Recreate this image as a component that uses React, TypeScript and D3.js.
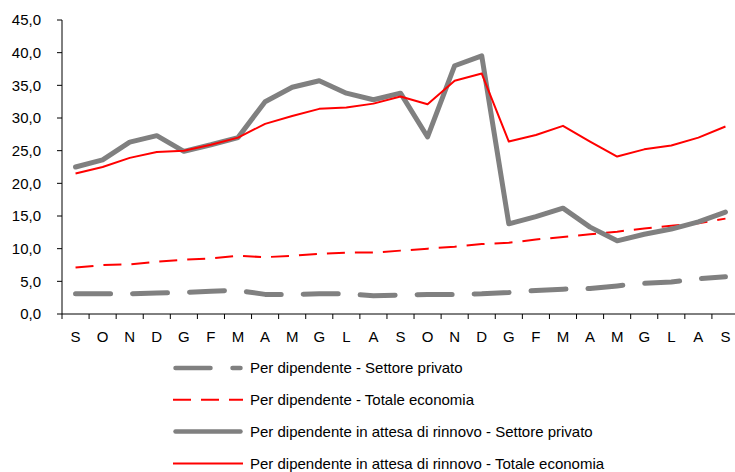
import { useEffect, useRef } from "react";
import * as d3 from "d3";

const W = 735;
const H = 472;

// months, Sep to Sep over two years
const months = ["S", "O", "N", "D", "G", "F", "M", "A", "M", "G", "L", "A", "S", "O", "N", "D", "G", "F", "M", "A", "M", "G", "L", "A", "S"];

const privatoDip = [3.1, 3.1, 3.1, 3.2, 3.3, 3.5, 3.6, 3.0, 3.0, 3.1, 3.1, 2.8, 2.9, 3.0, 3.0, 3.1, 3.3, 3.6, 3.8, 3.9, 4.3, 4.7, 4.9, 5.4, 5.7];
const totaleDip = [7.1, 7.5, 7.6, 8.0, 8.3, 8.5, 8.9, 8.7, 8.9, 9.2, 9.4, 9.4, 9.7, 10.0, 10.3, 10.7, 10.9, 11.4, 11.8, 12.2, 12.6, 13.1, 13.5, 13.9, 14.6];
const privatoAttesa = [22.5, 23.6, 26.3, 27.3, 24.9, 25.9, 27.0, 32.5, 34.7, 35.7, 33.8, 32.8, 33.8, 27.1, 38.0, 39.5, 13.8, 14.9, 16.2, 13.3, 11.2, 12.2, 13.0, 14.1, 15.6];
const totaleAttesa = [21.5, 22.5, 23.9, 24.8, 25.0, 25.9, 27.0, 29.1, 30.3, 31.4, 31.6, 32.2, 33.3, 32.1, 35.7, 36.8, 26.4, 27.4, 28.8, 26.4, 24.1, 25.2, 25.8, 27.0, 28.7];

const yTicks = [0, 5, 10, 15, 20, 25, 30, 35, 40, 45];

const series = [
  { name: "Per dipendente - Settore privato", values: privatoDip, color: "#808080", width: 5, dash: "35 22", cap: "round" },
  { name: "Per dipendente - Totale economia", values: totaleDip, color: "#ff0000", width: 2, dash: "18 10", cap: "butt" },
  { name: "Per dipendente in attesa di rinnovo - Settore privato", values: privatoAttesa, color: "#808080", width: 5, dash: null, cap: "round" },
  { name: "Per dipendente in attesa di rinnovo - Totale economia", values: totaleAttesa, color: "#ff0000", width: 2, dash: null, cap: "butt" },
];

export default function App() {
  const ref = useRef<SVGSVGElement | null>(null);

  useEffect(() => {
    const svg = d3.select(ref.current!);
    svg.selectAll("*").remove();

    const left = 62;
    const right = 739;
    const top = 20;
    const bottom = 314;

    const x = d3.scaleBand<number>().domain(d3.range(months.length)).range([left, right]);
    const y = d3.scaleLinear().domain([0, 45]).range([bottom, top]);
    const cx = (i: number) => x(i)! + x.bandwidth() / 2;

    const font = "Liberation Sans, Arial, sans-serif";

    // y axis
    const yAxis = svg.append("g").attr("transform", `translate(${left},0)`);
    yAxis.append("line").attr("y1", top).attr("y2", bottom).attr("stroke", "#000");
    yAxis
      .selectAll("g")
      .data(yTicks)
      .join("g")
      .each(function (d) {
        const g = d3.select(this);
        g.append("line").attr("x1", -5).attr("x2", 0).attr("y1", y(d)).attr("y2", y(d)).attr("stroke", "#000");
        g.append("text")
          .attr("x", -21)
          .attr("y", y(d))
          .attr("dy", "0.35em")
          .attr("text-anchor", "end")
          .style("font", `15px ${font}`)
          .attr("fill", "#000")
          .text(d3.format(".1f")(d).replace(".", ","));
      });

    // x axis
    const xAxis = svg.append("g");
    xAxis.append("line").attr("x1", left).attr("x2", right).attr("y1", bottom).attr("y2", bottom).attr("stroke", "#000");
    xAxis
      .selectAll("line.tick")
      .data(d3.range(months.length + 1))
      .join("line")
      .attr("class", "tick")
      .attr("x1", (i) => left + i * x.bandwidth())
      .attr("x2", (i) => left + i * x.bandwidth())
      .attr("y1", bottom)
      .attr("y2", bottom + 5)
      .attr("stroke", "#000");
    xAxis
      .selectAll("text")
      .data(months)
      .join("text")
      .attr("x", (_, i) => cx(i))
      .attr("y", bottom + 23)
      .attr("dy", "0.35em")
      .attr("text-anchor", "middle")
      .style("font", `15px ${font}`)
      .attr("fill", "#000")
      .text((d) => d);

    // lines
    const line = d3
      .line<number>()
      .x((_, i) => cx(i))
      .y((d) => y(d));

    svg
      .append("g")
      .attr("fill", "none")
      .selectAll("path")
      .data(series)
      .join("path")
      .attr("d", (s) => line(s.values))
      .attr("stroke", (s) => s.color)
      .attr("stroke-width", (s) => s.width)
      .attr("stroke-dasharray", (s) => s.dash)
      .attr("stroke-linecap", (s) => s.cap)
      .attr("stroke-linejoin", "round");

    // legend
    const legend = svg
      .append("g")
      .selectAll("g")
      .data(series)
      .join("g")
      .attr("transform", (_, i) => `translate(0,${368 + i * 31.8})`);

    legend
      .append("line")
      .attr("x1", (s) => (s.cap === "round" ? 175.5 : 173))
      .attr("x2", (s) => (s.cap === "round" ? 240.5 : 243))
      .attr("stroke", (s) => s.color)
      .attr("stroke-width", (s) => (s.width > 3 ? 4.5 : 2))
      .attr("stroke-dasharray", (s) => s.dash)
      .attr("stroke-linecap", (s) => s.cap);

    legend
      .append("text")
      .attr("x", 250)
      .attr("dy", "0.35em")
      .style("font", `15px ${font}`)
      .attr("fill", "#000")
      .text((s) => s.name);
  }, []);

  return (
    <svg
      ref={ref}
      width={W}
      height={H}
      style={{ position: "absolute", left: 0, top: 0, background: "#fff" }}
    />
  );
}
